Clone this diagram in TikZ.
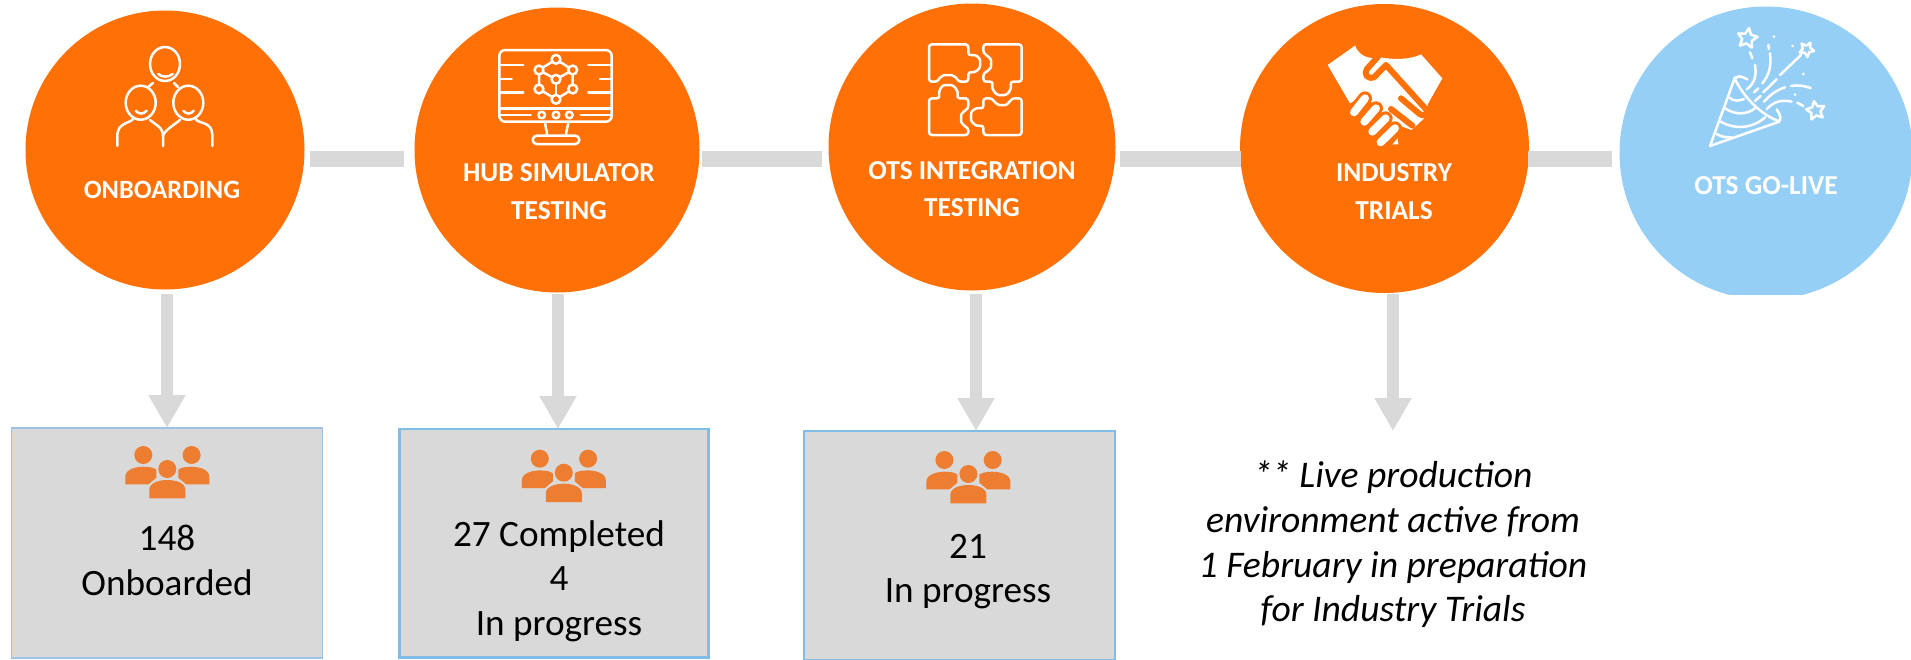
\documentclass[tikz,border=0pt]{standalone}
\usepackage{fontspec}
\setmainfont{Carlito}
\usetikzlibrary{arrows.meta}
\definecolor{stageorange}{HTML}{FF7006}
\definecolor{goliveblue}{HTML}{96CFF6}
\definecolor{bargray}{HTML}{D9D9D9}
\definecolor{peopleorange}{HTML}{ED7D31}
\definecolor{thinblue}{HTML}{9DC3E6}
\definecolor{thickblue}{HTML}{7FBCE8}
\tikzset{
  stagenode/.style={circle,fill=stageorange,inner sep=0pt,outer sep=0pt},
  golivenode/.style={circle,fill=goliveblue,inner sep=0pt,outer sep=0pt,minimum size=146.5pt},
  stagelabel/.style={text=white,align=center,inner sep=0pt,anchor=base,font=\fontsize{13.7}{18.8}\selectfont\bfseries},
  countbox/.style={rectangle,fill=bargray,inner sep=0pt,outer sep=0pt},
  counttext/.style={text=black,align=center,inner sep=0pt,anchor=base,font=\fontsize{18.6}{22.2}\selectfont},
  gapbar/.style={bargray,line width=7.85pt},
  downarrow/.style={bargray,line width=6pt,-{Triangle[length=16.5pt,width=17.5pt]}},
  iconline/.style={white,line width=1.25pt,line cap=round,line join=round},
  pics/peopleicon/.style={code={
    \fill[peopleorange] (-24,-16.7) circle (9);
    \fill[peopleorange] (24.3,-16.7) circle (9);
    \fill[peopleorange] (0,-2.7) circle (9);
    \fill[peopleorange] (-42,12.7) -- (-42,5) .. controls (-42,-3) and (-30,-5) .. (-24,-5) .. controls (-18,-5) and (-13,-4) .. (-11,-2) -- (-11,6) -- (-19,12.7) -- cycle;
    \fill[peopleorange] (42,12.7) -- (42,5) .. controls (42,-3) and (30,-5) .. (24,-5) .. controls (18,-5) and (13,-4) .. (11,-2) -- (11,6) -- (19,12.7) -- cycle;
    \fill[peopleorange] (-18,26.7) -- (-18,18) .. controls (-18,11) and (-8,8.3) .. (0,8.3) .. controls (8,8.3) and (18,11) .. (18,18) -- (18,26.7) -- cycle;
  }},
  pics/crowdicon/.style={code={
    \draw[iconline] (0,-86) ellipse (15 and 17);
    \draw[iconline] (-24.3,-47.3) ellipse (15 and 17);
    \draw[iconline] (23.3,-47.3) ellipse (15 and 17);
    \draw[iconline] (-6.7,-76) .. controls (-3,-72.5) and (3,-72.5) .. (7.7,-76);
    \draw[iconline] (-29.3,-39.3) .. controls (-26,-35.5) and (-22,-35.5) .. (-18.3,-39.3);
    \draw[iconline] (18.3,-39.3) .. controls (21.5,-35.5) and (25.5,-35.5) .. (28.7,-39.3);
    \draw[iconline] (-12,-67) -- (-17,-63);
    \draw[iconline] (9,-67) -- (13,-63);
    \draw[iconline] (-31.7,-31.7) .. controls (-34,-26) and (-47.7,-29) .. (-47.7,-13.3) -- (-47.7,-4);
    \draw[iconline] (-15,-30) -- (-7,-24) .. controls (-3,-21) and (-2,-17) .. (-2,-14) -- (-2,-4);
    \draw[iconline] (15,-30) -- (7,-24) .. controls (3,-21) and (-2,-17) .. (-2,-14);
    \draw[iconline] (30.7,-31) .. controls (33,-26) and (47.3,-29) .. (47.3,-15) -- (47.3,-4);
  }},
  pics/monitoricon/.style={code={
    \draw[iconline,rounded corners=3pt] (-57.7,-100) rectangle (54.7,-28.3);
    \draw[iconline] (-57.7,-41.7) -- (54.7,-41.7);
    \draw[iconline] (-57.7,-35) -- (-26.3,-35);
    \draw[iconline] (23.7,-35) -- (54.7,-35);
    \foreach \px in {-15.3,-1,12.3} \draw[iconline] (\px,-35) circle (3.3);
    \draw[iconline] (-12,-28.3) .. controls (-12,-24) and (-10,-20) .. (-10,-14.3);
    \draw[iconline] (11.3,-28.3) .. controls (11.3,-24) and (9,-20) .. (9,-14.3);
    \draw[iconline,rounded corners=2pt] (-24.3,-14.3) rectangle (22.3,-6);
    \foreach \py/\pl/\pr in {-85/-33.7/31.3,-71/-45.3/43,-57.3/-33.7/31.3} {
      \draw[iconline] (-57.7,\py) -- (\pl,\py);
      \draw[iconline] (\pr,\py) -- (54.7,\py);
    }
    \draw[iconline] (-1,-90.7) -- (-18,-80) -- (-18,-61) -- (-1,-50.7) -- (15.7,-61) -- (15.7,-80) -- cycle;
    \draw[iconline] (-18,-80) -- (-1,-70.7) -- (15.7,-80);
    \draw[iconline] (-1,-70.7) -- (-1,-50.7);
    \foreach \nx/\ny in {-1/-90.7,-18/-80,15.7/-80,-1/-70.7,-18/-61,15.7/-61,-1/-50.7}
      \draw[iconline,fill=stageorange] (\nx,\ny) circle (4.4);
  }},
  pics/puzzleicon/.style={code={
    \draw[iconline,rounded corners=1.5pt] (-43,-65.3) -- (-43,-102.7) -- (-3.7,-102.7) -- (-3.7,-91.3)
      .. controls (4,-93) and (8,-89) .. (8,-83.7) .. controls (8,-78) and (3,-74) .. (-3.7,-75.3) -- (-3.7,-65.3) -- (-13.7,-65.3)
      .. controls (-16,-70) and (-20,-72) .. (-24.3,-72) .. controls (-28,-72) and (-32,-70) .. (-34.3,-65.3) -- cycle;
    \draw[iconline,rounded corners=1.5pt] (11.3,-102.7) -- (49.7,-102.7) -- (49.7,-65.3) -- (38,-65.3)
      .. controls (40,-58) and (36,-52) .. (29.7,-52) .. controls (24,-52) and (19,-58) .. (21.3,-65.3) -- (11.3,-65.3) -- (11.3,-73.7)
      .. controls (16,-76) and (19,-79) .. (19,-83.7) .. controls (19,-88) and (16,-91) .. (11.3,-93.7) -- cycle;
    \draw[iconline,rounded corners=1.5pt] (-43,-48.7) -- (-32,-48.7)
      .. controls (-34,-56) and (-30,-62) .. (-24.3,-62) .. controls (-18,-62) and (-13,-56) .. (-15.3,-48.7) -- (-3.7,-48.7) -- (-3.7,-38)
      .. controls (-8,-36) and (-11,-33) .. (-11,-28.7) .. controls (-11,-25) and (-8,-21) .. (-3.7,-19.3) -- (-3.7,-12) -- (-43,-12) -- cycle;
    \draw[iconline,rounded corners=1.5pt] (11.3,-48.7) -- (20.3,-48.7)
      .. controls (23,-44) and (26,-42) .. (30.3,-42) .. controls (34,-42) and (37,-44) .. (39.7,-48.7) -- (49.7,-48.7) -- (49.7,-12) -- (11.3,-12) -- (11.3,-22)
      .. controls (4,-20) and (-1,-25) .. (-1,-30.3) .. controls (-1,-36) and (4,-40) .. (11.3,-38) -- cycle;
  }},
  pics/handicon/.style={code={
    \begin{scope}[shift={(-69.5,-113.5)},scale=0.3333]
      \fill[white] (38,90) -- (120,32) .. controls (130,55) and (145,68) .. (180,70) -- (200,68) .. controls (240,74) and (285,74) .. (318,58)
        -- (382,130) -- (338,208) -- (338,240) -- (290,285) -- (220,260) -- (150,180) -- (105,205) -- cycle;
      \draw[stageorange,line width=3pt,line cap=round,line join=round] (188,66) -- (155,103) .. controls (145,118) and (160,135) .. (178,126) -- (213,90) -- (335,225) .. controls (340,238) and (325,245) .. (315,238) -- (258,190);
      \draw[stageorange,line width=3pt,line cap=round] (228,222) -- (292,272);
      \foreach \fa/\fb/\fc/\fd in {150/190/117/232,183/220/148/260,212/250/172/290,240/280/197/322} {
        \draw[stageorange,line width=7pt,line cap=round] (\fa,\fb) -- (\fc,\fd);
        \draw[white,line width=4pt,line cap=round] (\fa,\fb) -- (\fc,\fd);
      }
      \fill[white] (232,328) -- (248,310) -- (250,328) -- cycle;
    \end{scope}
  }},
  pics/popperticon/.style={code={
    \begin{scope}[shift={(-266,-153)},scale=0.3333]
      \draw[iconline] (705,232) -- (630,438) -- (838,365);
      \draw[iconline] (705,238) .. controls (740,305) and (790,345) .. (832,362);
      \draw[iconline] (705,238) .. controls (708,225) and (725,228) .. (742,238);
      \draw[iconline] (830,328) .. controls (842,345) and (845,360) .. (836,364);
      \draw[iconline] (688,293) .. controls (700,305) and (720,303) .. (732,297);
      \draw[iconline] (675,325) .. controls (705,345) and (740,345) .. (765,325);
      \draw[iconline] (662,365) .. controls (705,390) and (760,385) .. (795,352);
      \draw[iconline] (650,402) .. controls (665,412) and (680,412) .. (695,412);
      \draw[iconline] (740,268) .. controls (765,250) and (770,225) .. (765,195);
      \draw[iconline] (757,175) -- (750,157);
      \draw[iconline] (787,250) .. controls (808,225) and (815,195) .. (810,160);
      \draw[iconline] (807,147) -- (805,135);
      \draw[iconline] (840,225) -- (903,165);
      \draw[iconline] (790,277) -- (830,238);
      \draw[iconline] (762,277) -- (775,265);
      \draw[iconline] (765,303) -- (782,288);
      \draw[iconline] (792,305) .. controls (810,285) and (830,270) .. (855,262);
      \draw[iconline] (873,258) .. controls (895,254) and (915,258) .. (932,264);
      \draw[iconline] (800,328) .. controls (820,305) and (845,298) .. (875,305);
      \draw[iconline] (892,308) -- (910,318);
      \foreach \dx/\dy in {822/110,878/138,910/222,885/284} \fill[white] (\dx,\dy) circle (4.5);
      \foreach \sx/\sy/\sr/\rr in {742/115/31/-80,920/148/23/-60,947/332/29/-100}
        \draw[iconline] (\sx,\sy) +(\rr:\sr) \foreach \k in {0,1,2,3,4} { -- +({\rr+\k*72+36}:{.5*\sr}) -- +({\rr+\k*72+72}:\sr) } -- cycle;
    \end{scope}
  }},
}
\begin{document}
\begin{tikzpicture}[x=0.5pt,y=-0.5pt]
      \useasboundingbox (0,0) rectangle (1911,659);
      \node[stagenode,minimum size=139.5pt] (onboard) at (165,150) {};
      \node[stagenode,minimum size=142.5pt] (hubsim) at (557,150) {};
      \node[stagenode,minimum size=143.5pt] (otsint) at (972,147) {};
      \node[stagenode,minimum size=144.5pt] (indtrials) at (1384.5,148.5) {};
      \begin{scope}
        \clip (1500,0) rectangle (1911,294);
        \node[golivenode] (golive) at (1766,153) {};
      \end{scope}

      \node[stagelabel,font=\fontsize{13.2}{18.8}\selectfont\bfseries] (onboardtext) at (162,198) {ONBOARDING};
      \node[stagelabel] (hubtext) at (559,219.3) {HUB SIMULATOR\\TESTING};
      \node[stagelabel] (otstext) at (972,216.7) {OTS INTEGRATION\\TESTING};
      \node[stagelabel] (indtext) at (1394,219.3) {INDUSTRY\\TRIALS};
      \node[stagelabel] (golivetext) at (1766,194) {OTS GO-LIVE};

      \pic at (onboard.center) {crowdicon};
      \pic at (hubsim.center) {monitoricon};
      \pic at (otsint.center) {puzzleicon};
      \pic at (indtrials.center) {handicon};
      \pic at (golive.center) {popperticon};

      \node[countbox,draw=thinblue,line width=0.6pt,minimum width=155.4pt,minimum height=115pt] (boxonb) at (166.75,543) {};
      \node[countbox,draw=thickblue,line width=1.4pt,minimum width=154.5pt,minimum height=114.2pt] (boxhub) at (554.25,543.25) {};
      \node[countbox,draw=thickblue,line width=1.4pt,minimum width=155.5pt,minimum height=114.5pt] (boxots) at (959.5,545.5) {};

      \pic at (167.3,471.7) {peopleicon};
      \pic at (563.8,475.4) {peopleicon};
      \pic at (968.4,476.7) {peopleicon};

      \node[counttext] (onbcount) at (167,595) {148\\Onboarded};
      \node[counttext] (hubcount) at (559,635) {27 Completed\\4\\In progress};
      \node[counttext] (otscount) at (968,602.7) {21\\In progress};
      \node[counttext,font=\fontsize{18.8}{22.3}\selectfont\itshape] (trialnote) at (1393,621.7) {** Live production\\environment active from\\1 February in preparation\\for Industry Trials};
      \coordinate (notetip) at (1393,431);

      \draw[gapbar] ([shift={(5.5,9)}]onboard.east) -- ([shift={(-10.5,9)}]hubsim.west);
      \draw[gapbar] ([shift={(2,9)}]hubsim.east) -- ([shift={(-6.5,12)}]otsint.west);
      \draw[gapbar] ([shift={(4,12)}]otsint.east) -- ([shift={(1,10.5)}]indtrials.west);
      \draw[gapbar] ([shift={(-1,10.5)}]indtrials.east) -- ([shift={(-7.5,6)}]golive.west);

      \draw[downarrow] ([shift={(2,4)}]onboard.south) -- ([shift={(0.25,0)}]boxonb.north);
      \draw[downarrow] ([shift={(1,1)}]hubsim.south) -- ([shift={(3.75,0)}]boxhub.north);
      \draw[downarrow] ([shift={(4,3)}]otsint.south) -- ([shift={(16.5,0)}]boxots.north);
      \draw[downarrow] ([shift={(8.5,1)}]indtrials.south) -- (notetip);
\end{tikzpicture}
\end{document}
